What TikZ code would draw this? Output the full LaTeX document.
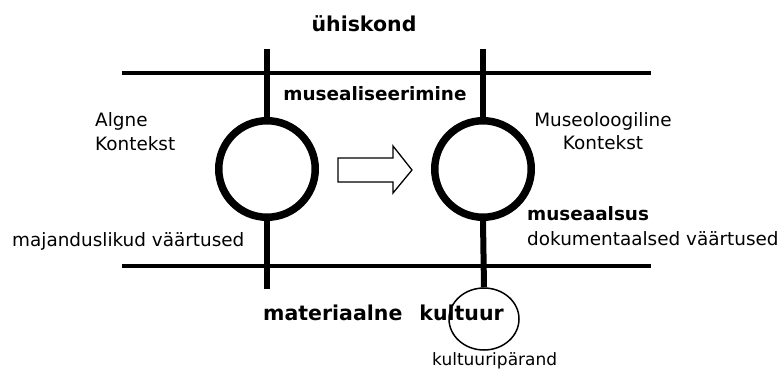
\documentclass[tikz,border=0pt]{standalone}
\usepackage{fontspec}
\setmainfont{DejaVu Sans}
\usetikzlibrary{shapes.geometric}
\begin{document}
\begin{tikzpicture}[x=1pt,y=-1pt,
  hline/.style={line width=4pt},
  vline/.style={line width=6pt},
  ring/.style={line width=7.5pt},
  lbl/.style={inner sep=0pt, font=\fontsize{18.4}{22.5}\selectfont},
  blbl/.style={inner sep=0pt, font=\fontsize{18.4}{22.5}\selectfont\bfseries},
  big/.style={inner sep=0pt, font=\fontsize{20.5}{24}\selectfont\bfseries}]
\useasboundingbox (0,0) rectangle (780,369);
% horizontal lines
\coordinate (t1) at (122,73); \coordinate (t2) at (651,73);
\coordinate (b1) at (122,265.5); \coordinate (b2) at (651,265.5);
\draw[hline] (t1) -- (t2);
\draw[hline] (b1) -- (b2);
% circles
\node[circle, draw, ring, minimum size=96.5pt, inner sep=0pt] (c1) at (267,169) {};
\node[circle, draw, ring, minimum size=96.5pt, inner sep=0pt] (c2) at (483,169) {};
% verticals
\coordinate (l1) at (267,49.5); \coordinate (l2) at (267,289);
\coordinate (r1) at (483,49.5);
\draw[vline] (l1) -- (c1.north);
\draw[vline] (c1.south) -- (l2);
\draw[vline] (r1) -- (c2.north);
% labels
\node[big, anchor=base] (uh) at (364,32) {ühiskond};
\node[blbl, anchor=base] (mus) at (375,101) {musealiseerimine};
\node[lbl, anchor=base west] (al) at (95,127) {Algne};
\node[lbl, anchor=base west] (ak) at (95,150) {Kontekst};
\node[lbl, anchor=base] (mo) at (603,127) {Museoloogiline};
\node[lbl, anchor=base] (mk) at (603,149.5) {Kontekst};
\node[lbl, anchor=base west] (mv) at (12,246.5) {majanduslikud väärtused};
\node[blbl, anchor=base west] (ma) at (527,220.5) {museaalsus};
\node[lbl, anchor=base west] (dv) at (527,245) {dokumentaalsed väärtused};
\node[big, anchor=base west] (mk2) at (263,320) {materiaalne\hspace{17pt}kultuur};
\node[inner sep=0pt, font=\fontsize{17}{20}\selectfont, anchor=base west] (kp) at (432,365) {kultuuripärand};
% small ellipse
\node[ellipse, draw, line width=1.5pt, minimum width=70pt, minimum height=62pt, inner sep=0pt] (se) at (484,319) {};
\draw[vline] (c2.south) -- (se.north);
% hollow arrow
\draw[line width=1.3pt, line join=miter, fill=white] (338,158) -- (393,158) -- (393,146) -- (412,170) -- (393,193) -- (393,182) -- (338,182) -- cycle;
\end{tikzpicture}
\end{document}
